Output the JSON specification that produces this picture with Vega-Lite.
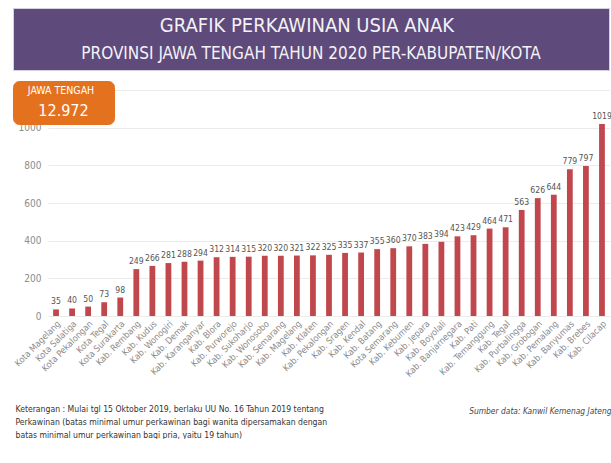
{
  "$schema": "https://vega.github.io/schema/vega-lite/v6.json",
  "padding": {"left": 12, "top": 7, "right": 0, "bottom": 0},
  "background": "white",
  "width": 562,
  "height": 226,
  "config": {
    "view": {"stroke": null},
    "font": "DejaVu Sans Condensed, Roboto, sans-serif"
  },
  "data": {
    "values": [
      {"wilayah": "Kota Magelang", "jumlah": 35},
      {"wilayah": "Kota Salatiga", "jumlah": 40},
      {"wilayah": "Kota Pekalongan", "jumlah": 50},
      {"wilayah": "Kota Tegal", "jumlah": 73},
      {"wilayah": "Kota Surakarta", "jumlah": 98},
      {"wilayah": "Kab. Rembang", "jumlah": 249},
      {"wilayah": "Kab. Kudus", "jumlah": 266},
      {"wilayah": "Kab. Wonogiri", "jumlah": 281},
      {"wilayah": "Kab. Demak", "jumlah": 288},
      {"wilayah": "Kab. Karanganyar", "jumlah": 294},
      {"wilayah": "Kab. Blora", "jumlah": 312},
      {"wilayah": "Kab. Purworejo", "jumlah": 314},
      {"wilayah": "Kab. Sukoharjo", "jumlah": 315},
      {"wilayah": "Kab. Wonosobo", "jumlah": 320},
      {"wilayah": "Kab. Semarang", "jumlah": 320},
      {"wilayah": "Kab. Magelang", "jumlah": 321},
      {"wilayah": "Kab. Klaten", "jumlah": 322},
      {"wilayah": "Kab. Pekalongan", "jumlah": 325},
      {"wilayah": "Kab. Sragen", "jumlah": 335},
      {"wilayah": "Kab. Kendal", "jumlah": 337},
      {"wilayah": "Kab. Batang", "jumlah": 355},
      {"wilayah": "Kota Semarang", "jumlah": 360},
      {"wilayah": "Kab. Kebumen", "jumlah": 370},
      {"wilayah": "Kab. Jepara", "jumlah": 383},
      {"wilayah": "Kab. Boyolali", "jumlah": 394},
      {"wilayah": "Kab. Banjarnegara", "jumlah": 423},
      {"wilayah": "Kab. Pati", "jumlah": 429},
      {"wilayah": "Kab. Temanggung", "jumlah": 464},
      {"wilayah": "Kab. Tegal", "jumlah": 471},
      {"wilayah": "Kab. Purbalingga", "jumlah": 563},
      {"wilayah": "Kab. Grobogan", "jumlah": 626},
      {"wilayah": "Kab. Pemalang", "jumlah": 644},
      {"wilayah": "Kab. Banyumas", "jumlah": 779},
      {"wilayah": "Kab. Brebes", "jumlah": 797},
      {"wilayah": "Kab. Cilacap", "jumlah": 1019}
    ]
  },
  "encoding": {
    "x": {
      "field": "wilayah",
      "type": "nominal",
      "sort": null,
      "scale": {"paddingInner": 0.64, "paddingOuter": 0.32},
      "axis": {
        "title": [
          "Keterangan : Mulai tgl 15 Oktober 2019, berlaku UU No. 16 Tahun 2019 tentang",
          "Perkawinan (batas minimal umur perkawinan bagi wanita dipersamakan dengan",
          "batas minimal umur perkawinan bagi pria, yaitu 19 tahun)"
        ],
        "titleX": -33,
        "titleY": 88,
        "titleAlign": "left",
        "titleAnchor": "start",
        "titleBaseline": "top",
        "titleFontSize": 8.6,
        "titleFontWeight": "normal",
        "titleColor": "#333333",
        "titleLineHeight": 13,
        "titleLimit": 0,
        "labelAngle": -45,
        "labelAlign": "right",
        "labelBaseline": "top",
        "labelPadding": 3,
        "labelFontSize": 9,
        "labelColor": "#8c8c8c",
        "labelOverlap": false,
        "ticks": false,
        "domain": false,
        "grid": false
      }
    },
    "y": {
      "field": "jumlah",
      "type": "quantitative",
      "scale": {"domain": [0, 1200], "nice": false},
      "axis": {
        "title": "Sumber data: Kanwil Kemenag Jateng",
        "titleAngle": 0,
        "titleX": 563,
        "titleY": 316,
        "titleAlign": "right",
        "titleAnchor": "start",
        "titleBaseline": "top",
        "titleFontSize": 8.4,
        "titleFontStyle": "italic",
        "titleFontWeight": "normal",
        "titleColor": "#444444",
        "titleLimit": 0,
        "values": [0, 200, 400, 600, 800, 1000, 1200],
        "format": "d",
        "labelExpr": "datum.value == 1200 ? '' : datum.label",
        "domain": false,
        "ticks": false,
        "gridColor": "#ebebeb",
        "labelColor": "#8c8c8c",
        "labelFontSize": 10,
        "labelPadding": 7
      }
    }
  },
  "layer": [
    {
      "mark": {"type": "bar", "strokeWidth": 0},
      "encoding": {
        "fill": {
          "datum": 0.5,
          "type": "quantitative",
          "scale": {"domain": [0, 1], "range": ["#c0474b", "#c0474b"]},
          "legend": {
            "orient": "none",
            "legendX": -35,
            "legendY": -9,
            "direction": "horizontal",
            "gradientLength": 91,
            "gradientThickness": 1,
            "gradientStrokeWidth": 0,
            "padding": 5,
            "fillColor": "#e3711e",
            "strokeColor": "#e3711e",
            "cornerRadius": 6,
            "title": "JAWA TENGAH",
            "titleColor": "#ffffff",
            "titleFontSize": 10.5,
            "titleFontWeight": "normal",
            "titleAnchor": "middle",
            "titleAlign": "center",
            "titlePadding": 3,
            "titleLimit": 0,
            "values": [0.5],
            "labelExpr": "'12.972'",
            "labelColor": "#ffffff",
            "labelFontSize": 16,
            "labelOffset": 2,
            "labelLimit": 0,
            "labelOverlap": false,
            "encode": {"gradient": {"update": {"opacity": {"value": 0}}}}
          }
        },
        "stroke": {
          "datum": 1,
          "type": "quantitative",
          "scale": {"domain": [0, 2], "range": ["#5e4a7b", "#5e4a7b"]},
          "legend": {
            "orient": "none",
            "legendX": -35,
            "legendY": -82,
            "direction": "horizontal",
            "gradientLength": 580,
            "gradientThickness": 1,
            "gradientStrokeWidth": 0,
            "padding": 8,
            "fillColor": "#5e4a7b",
            "strokeColor": "#d6cfe0",
            "cornerRadius": 0,
            "title": "GRAFIK PERKAWINAN USIA ANAK",
            "titleColor": "#f4f2f7",
            "titleFontSize": 20,
            "titleFontWeight": "normal",
            "titleAnchor": "middle",
            "titleAlign": "center",
            "titlePadding": 4,
            "titleLimit": 0,
            "values": [1],
            "labelExpr": "'PROVINSI JAWA TENGAH TAHUN 2020 PER-KABUPATEN/KOTA'",
            "labelColor": "#f4f2f7",
            "labelFontSize": 17,
            "labelOffset": 5,
            "labelLimit": 0,
            "labelOverlap": false,
            "encode": {"gradient": {"update": {"opacity": {"value": 0}}}}
          }
        }
      }
    },
    {
      "mark": {"type": "text", "baseline": "alphabetic", "dy": -5, "fontSize": 8.6, "color": "#555555"},
      "encoding": {"text": {"field": "jumlah", "type": "quantitative", "format": "d"}}
    }
  ]
}
